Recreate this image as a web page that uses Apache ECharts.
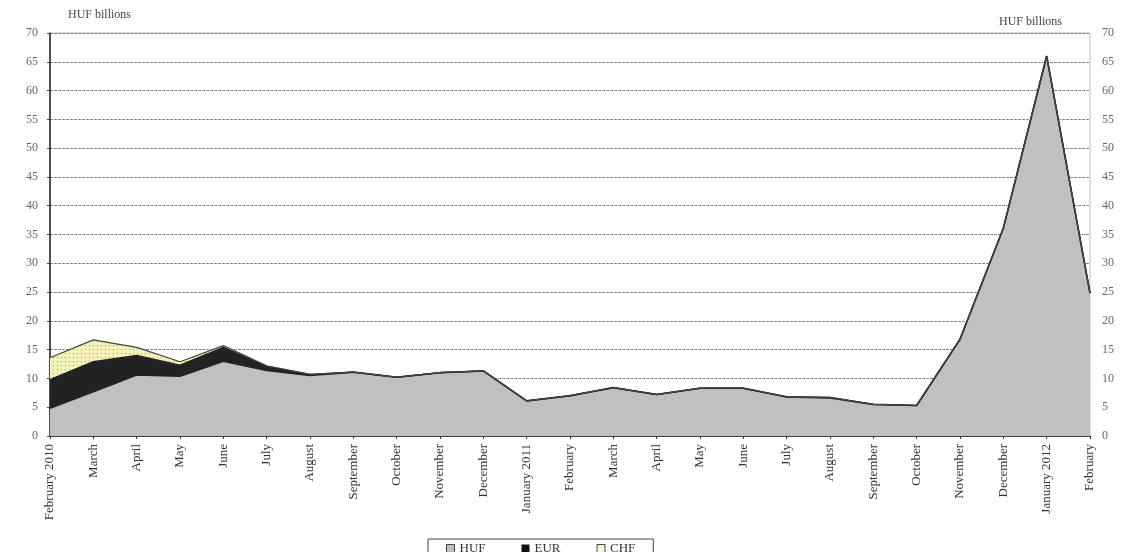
<!DOCTYPE html>
<html><head><meta charset="utf-8">
<script src="https://cdn.jsdelivr.net/npm/echarts@6/dist/echarts.min.js"></script>
<style>html,body{margin:0;padding:0;background:#fff}#c{width:1129px;height:552px}</style>
</head><body><div id="c"></div>
<script>
const categories = ['February 2010','March','April','May','June','July','August','September','October','November','December','January 2011','February','March','April','May','June','July','August','September','October','November','December','January 2012','February'];
const hufValues = [4.8, 7.7, 10.6, 10.4, 13.0, 11.4, 10.5, 11.1, 10.2, 11.0, 11.3, 6.1, 7.0, 8.4, 7.2, 8.3, 8.3, 6.8, 6.6, 5.5, 5.3, 16.8, 36.1, 66.0, 24.8];
const eurValues = [5.0, 5.2, 3.4, 1.9, 2.4, 0.7, 0.2, 0, 0, 0, 0, 0, 0, 0, 0, 0, 0, 0, 0.1, 0, 0, 0, 0, 0, 0];
const chfValues = [3.8, 3.8, 1.4, 0.6, 0.3, 0.1, 0, 0, 0, 0, 0, 0, 0, 0, 0, 0, 0, 0, 0, 0, 0, 0, 0, 0, 0];
const yMin = 0, yMax = 70, yStep = 5;
const axisTitle = 'HUF billions';

const pat = document.createElement('canvas');
pat.width = 4; pat.height = 4;
const pc = pat.getContext('2d');
pc.fillStyle = '#f6f3b8'; pc.fillRect(0,0,4,4);
pc.fillStyle = '#9a9870'; pc.fillRect(1,1,1,1);

const serif = '"Liberation Serif", "DejaVu Serif", serif';
const chart = echarts.init(document.getElementById('c'));
const yAxisBase = {
  type: 'value', min: yMin, max: yMax, interval: yStep,
  axisLabel: { color: '#666', fontFamily: serif, fontSize: 12, margin: 12 },
  axisTick: { show: true, length: 3, lineStyle: { color: '#444' } },
  splitLine: { show: true, lineStyle: { color: '#888', type: [3, 1], width: 1 } }
};
chart.setOption({
  animation: false,
  backgroundColor: '#fff',
  grid: { left: 50, right: 39, top: 33, bottom: 116, show: true, borderColor: '#bbb', borderWidth: 1 },
  legend: {
    top: 539, left: 428, itemGap: 36, itemWidth: 8, itemHeight: 8,
    padding: [3, 18, 10, 18],
    borderColor: '#444', borderWidth: 1,
    textStyle: { fontFamily: serif, fontSize: 13, color: '#333' },
    data: [
      { name: 'HUF', icon: 'rect', itemStyle: { color: '#c0c0c0', borderColor: '#444', borderWidth: 1 } },
      { name: 'EUR', icon: 'rect', itemStyle: { color: '#111' } },
      { name: 'CHF', icon: 'rect', itemStyle: { color: '#f6f3d8', borderColor: '#444', borderWidth: 1 } }
    ]
  },
  xAxis: {
    type: 'category', boundaryGap: false, data: categories,
    axisLine: { lineStyle: { color: '#222', width: 1.5 } },
    axisTick: { show: true, length: 3, lineStyle: { color: '#333' } },
    axisLabel: { rotate: 90, interval: 0, color: '#333', fontFamily: serif, fontSize: 13, margin: 8 }
  },
  yAxis: [
    Object.assign({}, yAxisBase, {
      position: 'left', name: axisTitle, nameLocation: 'end', nameGap: 12,
      nameTextStyle: { color: '#444', fontFamily: serif, fontSize: 12, align: 'left', padding: [0, 0, 0, 18] },
      axisLine: { show: true, lineStyle: { color: '#222', width: 1.5 } }
    }),
    Object.assign({}, yAxisBase, {
      position: 'right', name: axisTitle, nameLocation: 'end', nameGap: 5,
      nameTextStyle: { color: '#444', fontFamily: serif, fontSize: 12, align: 'right', padding: [0, 28, 0, 0] },
      axisLine: { show: false }, axisTick: { show: false },
      splitLine: { show: false }
    })
  ],
  series: [
    { name: 'HUF', type: 'line', stack: 's', data: hufValues, symbol: 'none',
      lineStyle: { color: '#222', width: 1.6 }, itemStyle: { color: '#c0c0c0' },
      areaStyle: { color: '#c0c0c0', opacity: 1 } },
    { name: 'EUR', type: 'line', stack: 's', data: eurValues, symbol: 'none',
      lineStyle: { color: '#222', width: 1.4 }, itemStyle: { color: '#111' },
      areaStyle: { color: '#222', opacity: 1 } },
    { name: 'CHF', type: 'line', stack: 's', data: chfValues, symbol: 'none',
      lineStyle: { color: '#444', width: 1.2 }, itemStyle: { color: '#f6f3d8' },
      areaStyle: { color: { image: pat, repeat: 'repeat' }, opacity: 1 } }
  ]
});
</script></body></html>
